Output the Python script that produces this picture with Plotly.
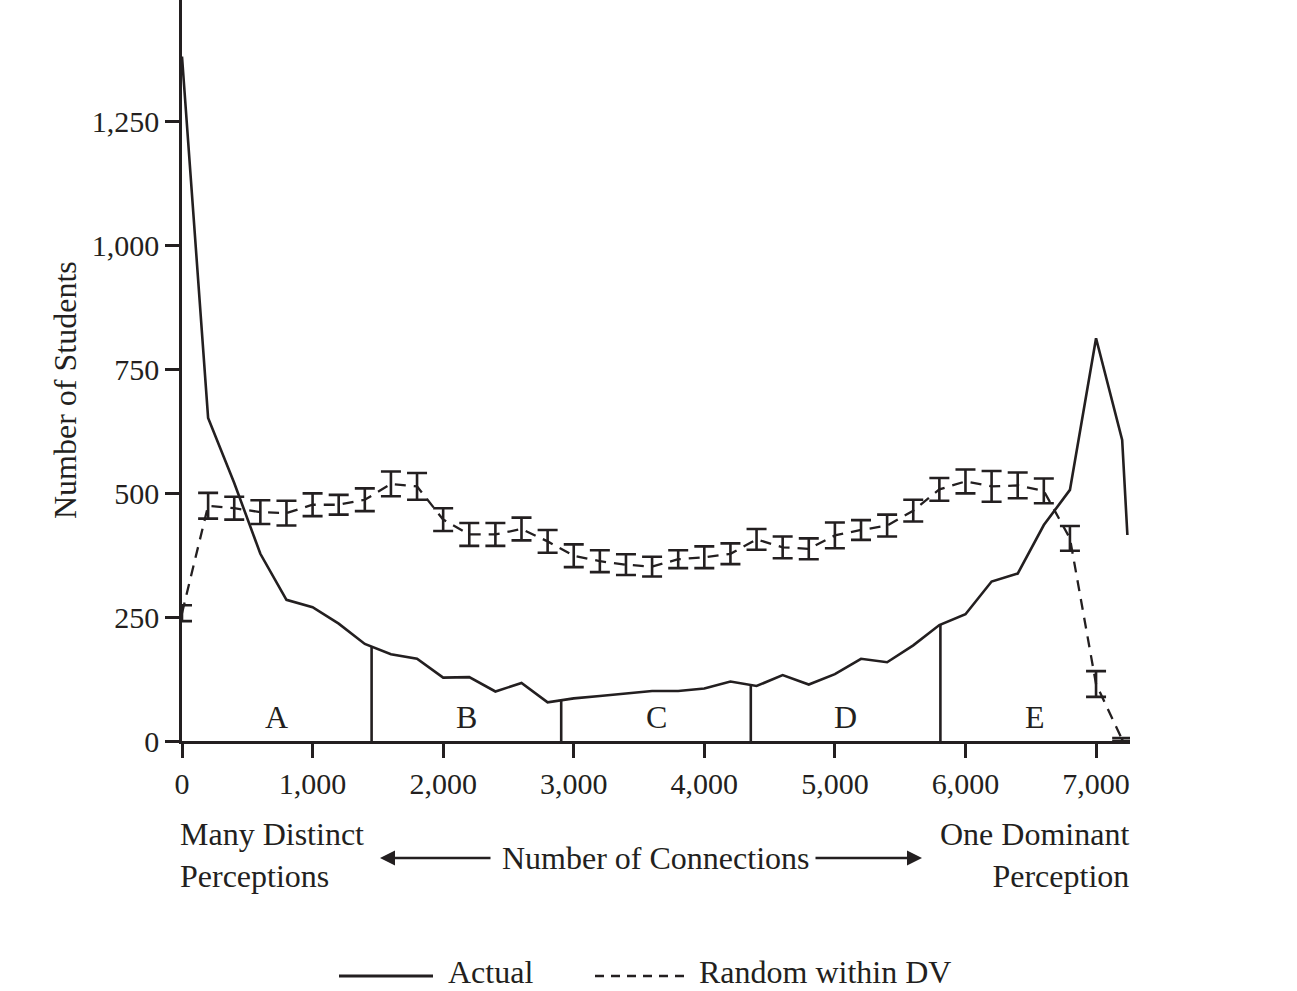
import numpy as np
import plotly.graph_objects as go

INK = "#231f20"
FONT = "Liberation Serif"

# ---- data ----
actual_x = [0, 200, 400, 600, 800, 1000, 1200, 1400, 1600, 1800, 2000, 2200, 2400, 2600,
            2800, 3000, 3200, 3400, 3600, 3800, 4000, 4200, 4400, 4600, 4800, 5000, 5200,
            5400, 5600, 5800, 6000, 6200, 6400, 6600, 6800, 7000, 7200, 7240]
actual_y = [1382, 652, 521, 378, 285, 270, 237, 196, 175, 166, 128, 129, 100, 117,
            78, 86, 91, 96, 101, 101, 106, 120, 111, 133, 114, 135, 166,
            159, 193, 234, 256, 322, 338, 436, 507, 813, 608, 416]

random_x = [0, 200, 400, 600, 800, 1000, 1200, 1400, 1600, 1800, 2000, 2200, 2400, 2600,
            2800, 3000, 3200, 3400, 3600, 3800, 4000, 4200, 4400, 4600, 4800, 5000, 5200,
            5400, 5600, 5800, 6000, 6200, 6400, 6600, 6800, 7000, 7200]
random_y = [258, 475, 470, 462, 460, 477, 477, 487, 519, 514, 447, 417, 417, 428,
            403, 374, 363, 356, 352, 367, 371, 378, 407, 391, 388, 415, 426,
            435, 465, 508, 524, 514, 516, 505, 409, 115, 3]
random_err = [16, 26, 23, 24, 25, 23, 20, 23, 25, 27, 23, 23, 23, 23,
              23, 23, 22, 21, 20, 18, 22, 21, 21, 22, 21, 26, 20,
              22, 22, 23, 24, 31, 26, 25, 25, 26, 3]

region_bounds = [1452, 2904, 4356, 5808]
region_labels = ["A", "B", "C", "D", "E"]
x_max = 7260
y_max = 1496

x_ticks = [0, 1000, 2000, 3000, 4000, 5000, 6000, 7000]
y_ticks = [0, 250, 500, 750, 1000, 1250]

fig = go.Figure()

fig.add_trace(go.Scatter(
    x=actual_x, y=actual_y, mode="lines",
    line=dict(color=INK, width=2.6), showlegend=False, cliponaxis=True))

fig.add_trace(go.Scatter(
    x=random_x, y=random_y, mode="lines",
    line=dict(color=INK, width=2.3, dash="11px,8px"),
    error_y=dict(type="data", array=random_err, visible=True,
                 color=INK, thickness=2.6, width=10),
    showlegend=False))

# region boundaries drawn up to the actual curve
bound_h = np.interp(region_bounds, actual_x, actual_y)
for bx, bh in zip(region_bounds, bound_h):
    fig.add_trace(go.Scatter(x=[bx, bx], y=[0, bh], mode="lines",
                             line=dict(color=INK, width=2.6), showlegend=False))

edges = [0] + region_bounds + [x_max]
for i, lab in enumerate(region_labels):
    fig.add_annotation(x=(edges[i] + edges[i + 1]) / 2, y=48, text=lab,
                       showarrow=False, xanchor="center", yanchor="middle",
                       font=dict(family=FONT, size=32, color=INK))

W, H = 1297, 991
L, R, T, B = 182, 167, 0, 250
pw, ph = W - L - R, H - T - B


def px(xp):
    return (xp - L) / pw


def py(yp):
    return (H - B - yp) / ph


fig.update_layout(
    width=W, height=H,
    margin=dict(l=L, r=R, t=T, b=B),
    paper_bgcolor="white", plot_bgcolor="white",
    font=dict(family=FONT, size=30, color=INK),
    xaxis=dict(range=[0, x_max], tickvals=x_ticks, tickformat=",",
               ticks="outside", ticklen=14, tickwidth=2.6, tickcolor=INK,
               showline=True, linewidth=2.6, linecolor=INK,
               showgrid=False, zeroline=False,
               tickfont=dict(family=FONT, size=30, color=INK)),
    yaxis=dict(range=[0, y_max], tickvals=y_ticks, tickformat=",",
               ticks="outside", ticklen=14, tickwidth=2.6, tickcolor=INK,
               showline=True, linewidth=2.6, linecolor=INK,
               showgrid=False, zeroline=False,
               tickfont=dict(family=FONT, size=30, color=INK)),
)

TXT = dict(family=FONT, size=32, color=INK)

# y-axis title
fig.add_annotation(xref="paper", yref="paper", x=px(65), y=py(390),
                   text="Number of Students", textangle=-90, showarrow=False,
                   xanchor="center", yanchor="middle", font=TXT)

# x-axis descriptions
fig.add_annotation(xref="paper", yref="paper", x=px(178), y=py(855),
                   text="Many Distinct<br>Perceptions", showarrow=False, align="left",
                   xanchor="left", yanchor="middle", font=TXT)
fig.add_annotation(xref="paper", yref="paper", x=px(1131), y=py(855),
                   text="One Dominant<br>Perception", showarrow=False, align="right",
                   xanchor="right", yanchor="middle", font=TXT)
fig.add_annotation(xref="paper", yref="paper", x=px(656), y=py(858),
                   text="Number of Connections", showarrow=False,
                   xanchor="center", yanchor="middle", font=TXT)
# arrows
fig.add_annotation(xref="paper", yref="paper", x=px(380), y=py(858),
                   ax=112, ay=0, axref="pixel", ayref="pixel",
                   text="", showarrow=True, arrowhead=2, arrowsize=1.2,
                   arrowwidth=2.5, arrowcolor=INK)
fig.add_annotation(xref="paper", yref="paper", x=px(922), y=py(858),
                   ax=-108, ay=0, axref="pixel", ayref="pixel",
                   text="", showarrow=True, arrowhead=2, arrowsize=1.2,
                   arrowwidth=2.5, arrowcolor=INK)

# legend
fig.add_shape(type="line", xref="paper", yref="paper",
              x0=px(339), x1=px(433), y0=py(976), y1=py(976),
              line=dict(color=INK, width=3))
fig.add_annotation(xref="paper", yref="paper", x=px(446), y=py(972),
                   text="Actual", showarrow=False, xanchor="left", yanchor="middle",
                   font=TXT)
fig.add_shape(type="line", xref="paper", yref="paper",
              x0=px(595), x1=px(684), y0=py(976), y1=py(976),
              line=dict(color=INK, width=2.5, dash="9px,7px"))
fig.add_annotation(xref="paper", yref="paper", x=px(697), y=py(972),
                   text="Random within DV", showarrow=False, xanchor="left",
                   yanchor="middle", font=TXT)

fig.write_html("out.html",
               config={"displayModeBar": False},
               post_script="document.body.style.margin='0';document.body.style.padding='0';"
                           "document.body.style.overflow='hidden';")
